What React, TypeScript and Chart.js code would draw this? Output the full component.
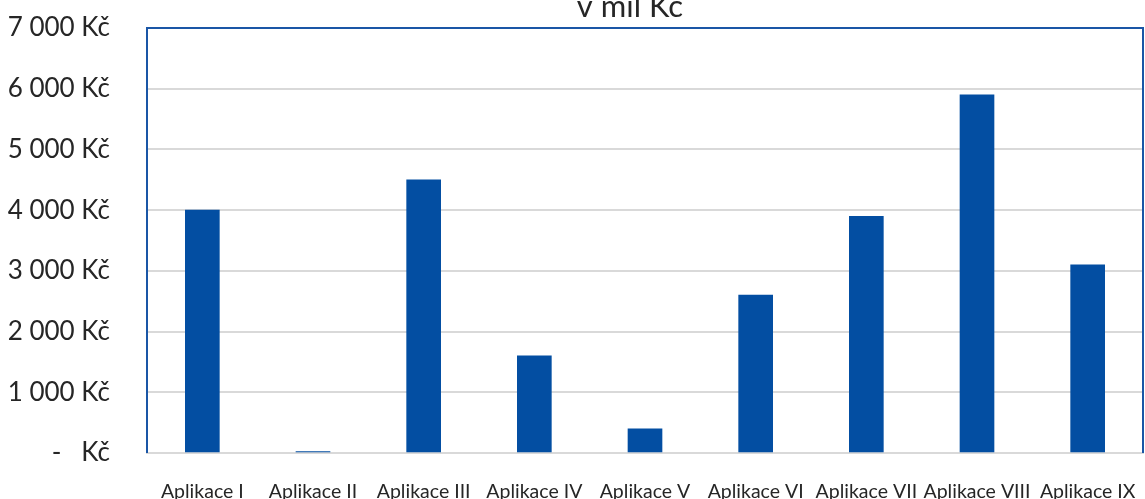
import React, { useEffect, useRef } from "react";
import { Chart, registerables } from "chart.js";

Chart.register(...registerables);

const titleText = "v mil Kč";
const categories = [
  "Aplikace I",
  "Aplikace II",
  "Aplikace III",
  "Aplikace IV",
  "Aplikace V",
  "Aplikace VI",
  "Aplikace VII",
  "Aplikace VIII",
  "Aplikace IX",
];
const values = [4000, 25, 4500, 1600, 400, 2600, 3900, 5900, 3100];
const yMin = 0;
const yMax = 7000;
const yStep = 1000;
const zeroLabel = "-   Kč";

const BAR_COLOR = "#034ea2";
const BORDER_COLOR = "#1a56a6";
const GRID_COLOR = "#d9d9d9";
const FONT = "Lato, 'Noto Sans', sans-serif";

function fmt(v: number): string {
  if (v === 0) return zeroLabel;
  const s = String(Math.round(v));
  return s.replace(/\B(?=(\d{3})+(?!\d))/g, " ") + " Kč";
}

const framePlugin = {
  id: "frame",
  afterDraw(chart: any) {
    const { ctx, chartArea } = chart;
    const { left, top, right, bottom } = chartArea;
    ctx.save();
    ctx.strokeStyle = BORDER_COLOR;
    ctx.lineWidth = 2;
    ctx.beginPath();
    ctx.moveTo(left, bottom);
    ctx.lineTo(left, top);
    ctx.lineTo(right, top);
    ctx.lineTo(right, bottom);
    ctx.stroke();
    ctx.fillStyle = "#262626";
    ctx.font = `31px ${FONT}`;
    ctx.textAlign = "center";
    ctx.textBaseline = "alphabetic";
    ctx.fillText(titleText, 630, 17);
    ctx.restore();
  },
};

export default function App() {
  const ref = useRef<HTMLCanvasElement | null>(null);
  useEffect(() => {
    if (!ref.current) return;
    const chart = new Chart(ref.current, {
      type: "bar",
      data: {
        labels: categories,
        datasets: [
          {
            data: values,
            backgroundColor: BAR_COLOR,
            barThickness: 34,
          },
        ],
      },
      options: {
        animation: false,
        responsive: false,
        devicePixelRatio: 1,
        layout: { padding: { top: 28, right: 2, left: 0, bottom: 0 } },
        plugins: {
          legend: { display: false },
          title: { display: false },
          tooltip: { enabled: false },
        },
        scales: {
          x: {
            grid: { display: false, drawTicks: false },
            border: { display: true, color: GRID_COLOR, width: 2 },
            ticks: {
              color: "#262626",
              font: { family: FONT, size: 19.5 },
              padding: 27,
              maxRotation: 0,
              autoSkip: false,
            },
            afterFit(scale: any) {
              scale.height = 46;
              scale.paddingLeft = 0;
              scale.paddingRight = 0;
            },
          },
          y: {
            min: yMin,
            max: yMax,
            grid: { color: GRID_COLOR, lineWidth: 2, drawTicks: false },
            border: { display: false },
            ticks: {
              stepSize: yStep,
              color: "#262626",
              font: { family: FONT, size: 26 },
              padding: 37,
              callback: (v: any) => fmt(Number(v)),
            },
            afterFit(scale: any) {
              scale.width = 147;
              scale.paddingTop = 0;
              scale.paddingBottom = 0;
            },
          },
        },
      },
      plugins: [framePlugin],
    });
    return () => chart.destroy();
  }, []);
  return (
    <div style={{ position: "absolute", left: 0, top: 0, width: 1145, height: 499, background: "#fff" }}>
      <canvas ref={ref} width={1145} height={499} style={{ display: "block" }} />
    </div>
  );
}
